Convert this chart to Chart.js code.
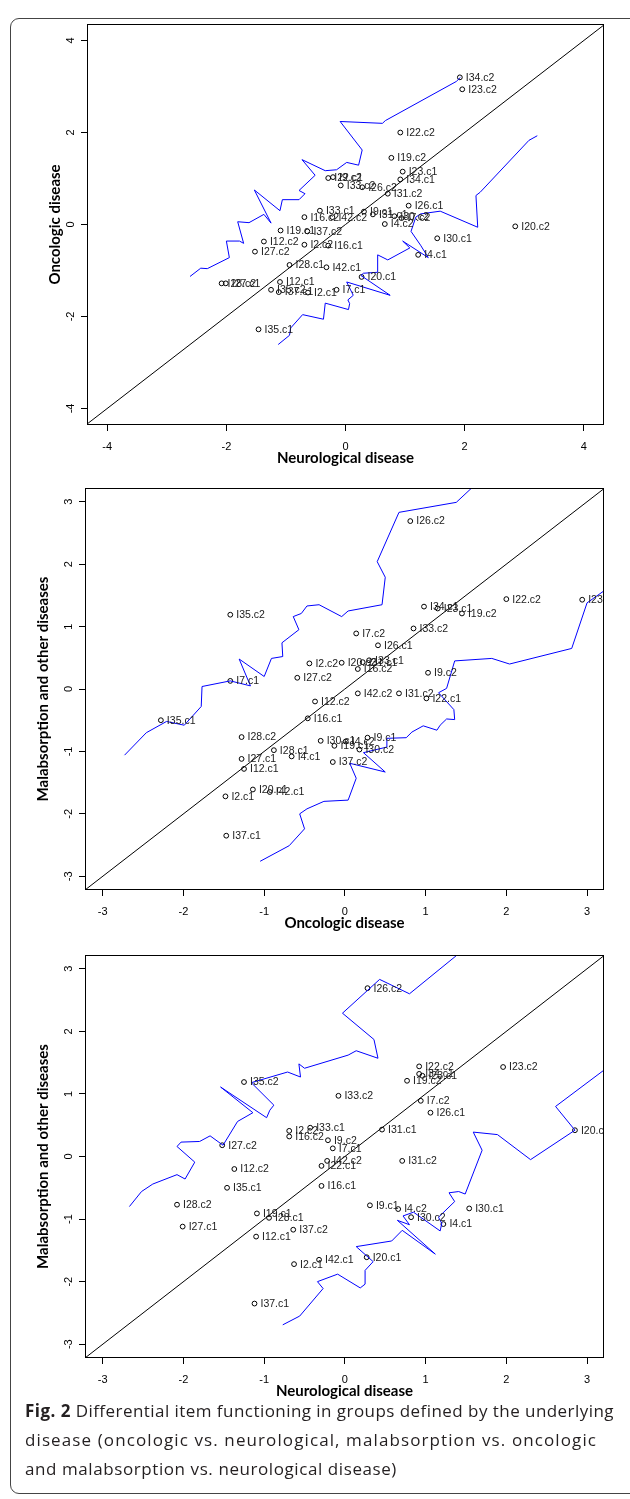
<!DOCTYPE html>
<html>
<head>
<meta charset="utf-8">
<script src="https://cdn.jsdelivr.net/npm/chart.js@4.4.0/dist/chart.umd.min.js"></script>
<style>
  html, body { margin: 0; padding: 0; background: #fff; }
  body { width: 630px; height: 1499px; position: relative; overflow: hidden; }
  .frame { position: absolute; left: 10px; top: 18px; width: 680px; height: 1476px;
           border: 1px solid #444; border-radius: 9px; box-sizing: border-box; }
  canvas { position: absolute; left: 0; }
  #caption { position: absolute; left: 25px; top: 1396px; font-family: "Open Sans"; font-size: 17px;
             line-height: 29px; color: #231f20; white-space: nowrap; }
  #caption span { display: inline-block; }
  #caption b { font-weight: 700; }
</style>
</head>
<body>
<div class="frame"></div>
<canvas id="p1"></canvas>
<canvas id="p2"></canvas>
<canvas id="p3"></canvas>
<div id="caption"><span><b>Fig. 2</b> Differential item functioning in groups defined by the underlying</span><br><span>disease (oncologic vs. neurological, malabsorption vs. oncologic</span><br><span>and malabsorption vs. neurological disease)</span></div>

<script>
// item names and the three DIF estimates per item
const items = ["I2.c1", "I2.c2", "I4.c1", "I4.c2", "I7.c1", "I7.c2", "I9.c1", "I9.c2", "I12.c1", "I12.c2",
	"I16.c1", "I16.c2", "I19.c1", "I19.c2", "I20.c1", "I20.c2", "I22.c1", "I22.c2", "I23.c1", "I23.c2",
	"I26.c1", "I26.c2", "I27.c1", "I27.c2", "I28.c1", "I28.c2", "I30.c1", "I30.c2", "I31.c1", "I31.c2",
	"I33.c1", "I33.c2", "I34.c1", "I34.c2", "I35.c1", "I35.c2", "I37.c1", "I37.c2", "I42.c1", "I42.c2"];
const neuro = [-0.63, -0.69, 1.22, 0.66, -0.15, 0.94, 0.31, -0.21, -1.10, -1.37,
	-0.29, -0.69, -1.09, 0.77, 0.27, 2.85, -0.29, 0.92, 0.96, 1.96,
	1.06, 0.28, -2.01, -1.52, -0.94, -2.08, 1.54, 0.82, 0.46, 0.71,
	-0.43, -0.08, 0.92, 1.92, -1.46, -1.25, -1.12, -0.64, -0.32, -0.22];
const onco = [-1.48, -0.44, -0.66, 0.01, -1.42, 0.14, 0.28, 1.03, -1.25, -0.37,
	-0.46, 0.16, -0.13, 1.45, -1.14, -0.04, 1.01, 2.00, 1.15, 2.94,
	0.41, 0.81, -1.28, -0.59, -0.88, -1.28, -0.30, 0.18, 0.22, 0.67,
	0.30, 0.85, 0.98, 3.20, -2.28, -1.42, -1.47, -0.15, -0.93, 0.16];
const malab = [-1.72, 0.41, -1.08, -0.84, 0.13, 0.89, -0.78, 0.26, -1.28, -0.20,
	-0.47, 0.32, -0.91, 1.21, -1.61, 0.42, -0.15, 1.44, 1.29, 1.43,
	0.70, 2.69, -1.12, 0.18, -0.98, -0.77, -0.83, -0.97, 0.43, -0.07,
	0.46, 0.97, 1.32, 3.45, -0.50, 1.19, -2.35, -1.17, -1.65, -0.07];

const ticksWide = [-4, -2, 0, 2, 4];
const ticksNarrow = [-3, -2, -1, 0, 1, 2, 3];

// confidence bands, [x, y] pairs
const band1Upper = [[-2.61, -1.13], [-2.43, -0.95], [-2.32, -0.96], [-1.95, -0.72], [-2.00, -0.36], [-1.78, -0.36],
	[-1.71, -0.41], [-1.81, 0.06], [-1.62, 0.04], [-1.37, 0.22], [-1.25, 0.03], [-1.53, 0.75], [-1.10, 0.30],
	[-1.06, 0.54], [-0.78, 0.54], [-0.68, 0.67], [-0.78, 0.74], [-0.51, 1.07], [-0.73, 1.41], [-0.34, 1.17],
	[-0.15, 1.19], [0.02, 1.35], [0.22, 1.29], [0.28, 1.62], [-0.09, 2.24], [0.62, 2.20], [0.67, 2.26],
	[1.86, 3.11], [1.93, 3.20]];
const band1Lower = [[-1.13, -2.61], [-0.94, -2.41], [-0.92, -2.25], [-0.72, -1.96], [-0.37, -2.06], [-0.34, -1.71],
	[0.05, -1.85], [0.07, -1.72], [0.04, -1.64], [0.13, -1.54], [0.02, -1.25], [0.75, -1.54], [0.26, -1.11],
	[0.30, -1.06], [0.53, -1.04], [0.54, -0.66], [0.71, -0.77], [1.08, -0.51], [0.96, -0.36], [1.39, -0.72],
	[1.26, -0.45], [1.10, -0.15], [1.18, 0.16], [1.26, 0.23], [1.59, 0.29], [2.22, -0.06], [2.19, 0.63],
	[2.26, 0.70], [3.08, 1.83], [3.22, 1.93]];
const band2Upper = [[-2.73, -1.06], [-2.46, -0.70], [-2.21, -0.52], [-1.99, -0.58], [-1.78, -0.28], [-1.77, 0.04],
	[-1.42, 0.13], [-1.17, 0.05], [-1.31, 0.48], [-1.00, 0.20], [-0.91, 0.49], [-0.77, 0.52], [-0.78, 0.74],
	[-0.57, 0.95], [-0.64, 1.16], [-0.54, 1.21], [-0.47, 1.33], [-0.32, 1.35], [-0.04, 1.16], [0.04, 1.25],
	[0.46, 1.35], [0.50, 1.79], [0.40, 2.04], [0.67, 2.83], [1.38, 2.99], [1.62, 3.28]];
const band2Lower = [[-1.05, -2.76], [-0.69, -2.51], [-0.50, -2.24], [-0.56, -2.00], [-0.47, -1.92], [-0.26, -1.80],
	[0.04, -1.78], [0.14, -1.43], [0.06, -1.19], [0.50, -1.33], [0.23, -1.02], [0.52, -0.93], [0.52, -0.79],
	[0.76, -0.78], [0.83, -0.69], [0.97, -0.59], [1.14, -0.66], [1.18, -0.58], [1.26, -0.48], [1.36, -0.49],
	[1.35, -0.33], [1.16, -0.06], [1.26, 0.01], [1.36, 0.45], [1.82, 0.49], [2.04, 0.40], [2.81, 0.65],
	[3.00, 1.38], [3.24, 1.60]];
const band3Upper = [[-2.67, -0.80], [-2.52, -0.56], [-2.38, -0.44], [-2.08, -0.29], [-1.98, -0.36], [-1.86, -0.09],
	[-2.08, 0.16], [-2.03, 0.23], [-1.80, 0.24], [-1.67, 0.33], [-1.51, 0.18], [-1.33, 0.56], [-1.14, 0.70],
	[-1.54, 1.11], [-0.97, 0.62], [-0.93, 0.74], [-0.88, 0.82], [-1.16, 1.18], [-0.71, 1.35], [-0.55, 1.27],
	[-0.57, 1.48], [-0.50, 1.41], [0.04, 1.62], [0.14, 1.69], [0.41, 1.57], [0.36, 1.87], [-0.03, 2.29],
	[0.43, 2.83], [0.80, 2.60], [1.40, 3.23]];
const band3Lower = [[-0.77, -2.69], [-0.56, -2.55], [-0.27, -2.11], [-0.34, -2.00], [-0.09, -1.88], [0.19, -2.10],
	[0.25, -2.04], [0.25, -1.82], [0.35, -1.68], [0.14, -1.44], [0.58, -1.35], [0.71, -1.18], [1.12, -1.56],
	[0.65, -1.02], [0.80, -1.09], [0.72, -0.95], [0.85, -0.89], [1.18, -1.19], [1.20, -1.07], [1.16, -0.97],
	[1.36, -0.72], [1.29, -0.58], [1.41, -0.56], [1.49, -0.60], [1.70, 0.10], [1.59, 0.39], [1.89, 0.35],
	[2.30, -0.05], [2.85, 0.42], [2.61, 0.80], [3.24, 1.41]];

// plot box + point labels, drawn like base R
const rPlot = {
	id: "rPlot",
	afterDatasetsDraw(chart) {
		const { ctx, chartArea: a } = chart;
		const idx = chart.data.datasets.findIndex(d => d.names);
		const names = chart.data.datasets[idx].names;
		ctx.save();
		ctx.beginPath();
		ctx.rect(a.left, a.top, a.right - a.left, a.bottom - a.top);
		ctx.clip();
		ctx.font = '10.5px "Liberation Sans"';
		ctx.fillStyle = "#1a1a1a";
		ctx.textBaseline = "middle";
		chart.getDatasetMeta(idx).data.forEach((el, i) => ctx.fillText(names[i], el.x + 6, el.y + 0.5));
		ctx.restore();
		ctx.save();
		ctx.strokeStyle = "#000";
		ctx.lineWidth = 1;
		ctx.strokeRect(Math.round(a.left) + 0.5, Math.round(a.top) + 0.5,
			Math.round(a.right - a.left) - 1, Math.round(a.bottom - a.top) - 1);
		ctx.restore();
	}
};

function axis(title, vals, min, max, extra) {
	return Object.assign({
		type: "linear", min, max,
		afterBuildTicks: s => { s.ticks = vals.map(v => ({ value: v })); },
		ticks: { font: { family: "Liberation Sans", size: 11 }, color: "#000", callback: v => String(v) },
		grid: { drawOnChartArea: false, drawTicks: true, tickLength: 6, color: "#000", lineWidth: 1 },
		border: { display: false },
		title: { display: true, text: title, color: "#000", padding: { top: 4, bottom: 4 },
			font: { family: "Lato", weight: "bold", size: 15 } }
	}, extra);
}

function line(pairs, color) {
	return { data: pairs.map(p => ({ x: p[0], y: p[1] })), showLine: true, borderColor: color,
		borderWidth: 1, pointRadius: 0, tension: 0, fill: false };
}

function panel(id, box, lim, vals, xs, ys, upper, lower, xTitle, yTitle, yTitleX) {
	const cv = document.getElementById(id);
	const padTop = 22, below = 50, xh = 46;
	cv.width = 630;
	cv.height = box.bottom - box.top + padTop + below;
	cv.style.top = (box.top - padTop) + "px";
	const yw = box.left - (yTitleX - 13);
	new Chart(cv, {
		type: "scatter",
		data: {
			datasets: [
				line(upper, "#0000ff"),
				line(lower, "#0000ff"),
				line([[-6, -6], [6, 6]], "#000"),
				{ data: xs.map((x, i) => ({ x, y: ys[i] })), names: items, pointStyle: "circle",
					pointRadius: 2.4, borderColor: "#000", backgroundColor: "rgba(0,0,0,0)", pointBorderWidth: 1 }
			]
		},
		options: {
			responsive: false, animation: false, devicePixelRatio: 1,
			layout: { padding: { left: box.left - yw, right: 630 - box.right, top: padTop, bottom: below - xh } },
			plugins: { legend: { display: false }, tooltip: { enabled: false } },
			scales: {
				x: axis(xTitle, vals, lim[0], lim[1], { afterFit: s => { s.height = xh; } }),
				y: axis(yTitle, vals, lim[2], lim[3], { afterFit: s => { s.width = yw; } })
			}
		},
		plugins: [rPlot]
	});
}

Chart.defaults.font.family = "Liberation Sans";

function tweak() {
	Chart.helpers.each(Chart.instances, c => {
		c.options.scales.x.ticks.padding = 9;
		Object.assign(c.options.scales.y.ticks, { minRotation: 90, maxRotation: 90, crossAlign: "center", padding: 5 });
		c.update();
	});
}

panel("p1", { left: 87, right: 604, top: 24, bottom: 425 }, [-4.34, 4.34, -4.36, 4.36], ticksWide,
	neuro, onco, band1Upper, band1Lower, "Neurological disease", "Oncologic disease", 55);
panel("p2", { left: 85, right: 604, top: 488, bottom: 890 }, [-3.22, 3.21, -3.22, 3.22], ticksNarrow,
	onco, malab, band2Upper, band2Lower, "Oncologic disease", "Malabsorption and other diseases", 43);
panel("p3", { left: 85, right: 604, top: 955, bottom: 1358 }, [-3.22, 3.21, -3.22, 3.22], ticksNarrow,
	neuro, malab, band3Upper, band3Lower, "Neurological disease", "Malabsorption and other diseases", 43);
tweak();

// stretch each caption line to the width it has in the figure
const capWidths = [589, 572, 372];
document.querySelectorAll("#caption span").forEach((s, i) => {
	const w = s.getBoundingClientRect().width;
	const n = s.textContent.length;
	s.style.letterSpacing = ((capWidths[i] - w) / n).toFixed(3) + "px";
});
</script>
</body>
</html>
